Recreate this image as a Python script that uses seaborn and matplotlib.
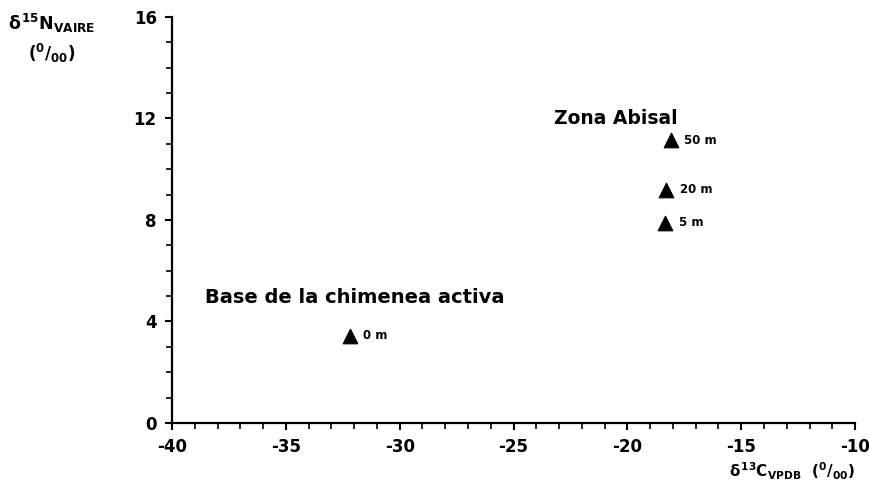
import matplotlib
matplotlib.use("Agg")
import matplotlib.pyplot as plt
import seaborn as sns
import pandas as pd
from matplotlib.ticker import MultipleLocator

# values
depths = ["0 m", "5 m", "20 m", "50 m"]
d13c = [-32.2, -18.35, -18.3, -18.1]
d15n = [3.43, 7.9, 9.2, 11.15]

sns.set_theme(style="ticks")
plt.rcParams["font.family"] = ["DejaVu Sans"]
plt.rcParams["font.weight"] = "bold"
plt.rcParams["axes.unicode_minus"] = False
plt.rcParams["mathtext.fontset"] = "custom"
plt.rcParams["mathtext.rm"] = "DejaVu Sans:bold"
plt.rcParams["mathtext.it"] = "DejaVu Sans:bold"
plt.rcParams["mathtext.bf"] = "DejaVu Sans:bold"
for k in ["text.color", "axes.labelcolor", "xtick.color", "ytick.color"]:
    plt.rcParams[k] = "black"

df = pd.DataFrame({"depth": depths, "d13c": d13c, "d15n": d15n})

fig = plt.figure(figsize=(8.7, 4.88), dpi=100)
ax = fig.add_axes([0.1977, 0.1332, 0.7851, 0.832])

sns.scatterplot(data=df, x="d13c", y="d15n", marker="^", s=110,
                color="black", edgecolor="black", ax=ax, legend=False)

for _, r in df.iterrows():
    ax.text(r.d13c + 0.6, r.d15n, r.depth, fontsize=8.5, fontweight="bold",
            va="center", ha="left")

ax.text(-23.2, 12.0, "Zona Abisal", fontsize=13.5, fontweight="bold",
        ha="left", va="center")
ax.text(-38.55, 4.95, "Base de la chimenea activa", fontsize=14,
        fontweight="bold", ha="left", va="center")

ax.set_xlim(-40, -10)
ax.set_ylim(0, 16)
ax.xaxis.set_major_locator(MultipleLocator(5))
ax.xaxis.set_minor_locator(MultipleLocator(1))
ax.yaxis.set_major_locator(MultipleLocator(4))
ax.yaxis.set_minor_locator(MultipleLocator(1))
ax.tick_params(which="major", length=5, width=1.5, labelsize=12, pad=6)
ax.tick_params(which="minor", length=4, width=1.2)
for lab in ax.get_xticklabels() + ax.get_yticklabels():
    lab.set_fontweight("bold")
for s in ["left", "bottom"]:
    ax.spines[s].set_linewidth(1.6)
    ax.spines[s].set_color("black")
sns.despine(ax=ax)

ax.set_xlabel("")
ax.set_ylabel("")
fig.text(0.983, 0.035, r"$\delta^{13}C_{VPDB}$  $(^{0}/_{00})$", fontsize=11,
         ha="right", va="center")
fig.text(0.06, 0.952, r"$\delta^{15}N_{VAIRE}$", fontsize=12.5,
         ha="center", va="center")
fig.text(0.06, 0.89, r"$(^{0}/_{00})$", fontsize=12,
         ha="center", va="center")

fig.savefig("out.png", dpi=100)
